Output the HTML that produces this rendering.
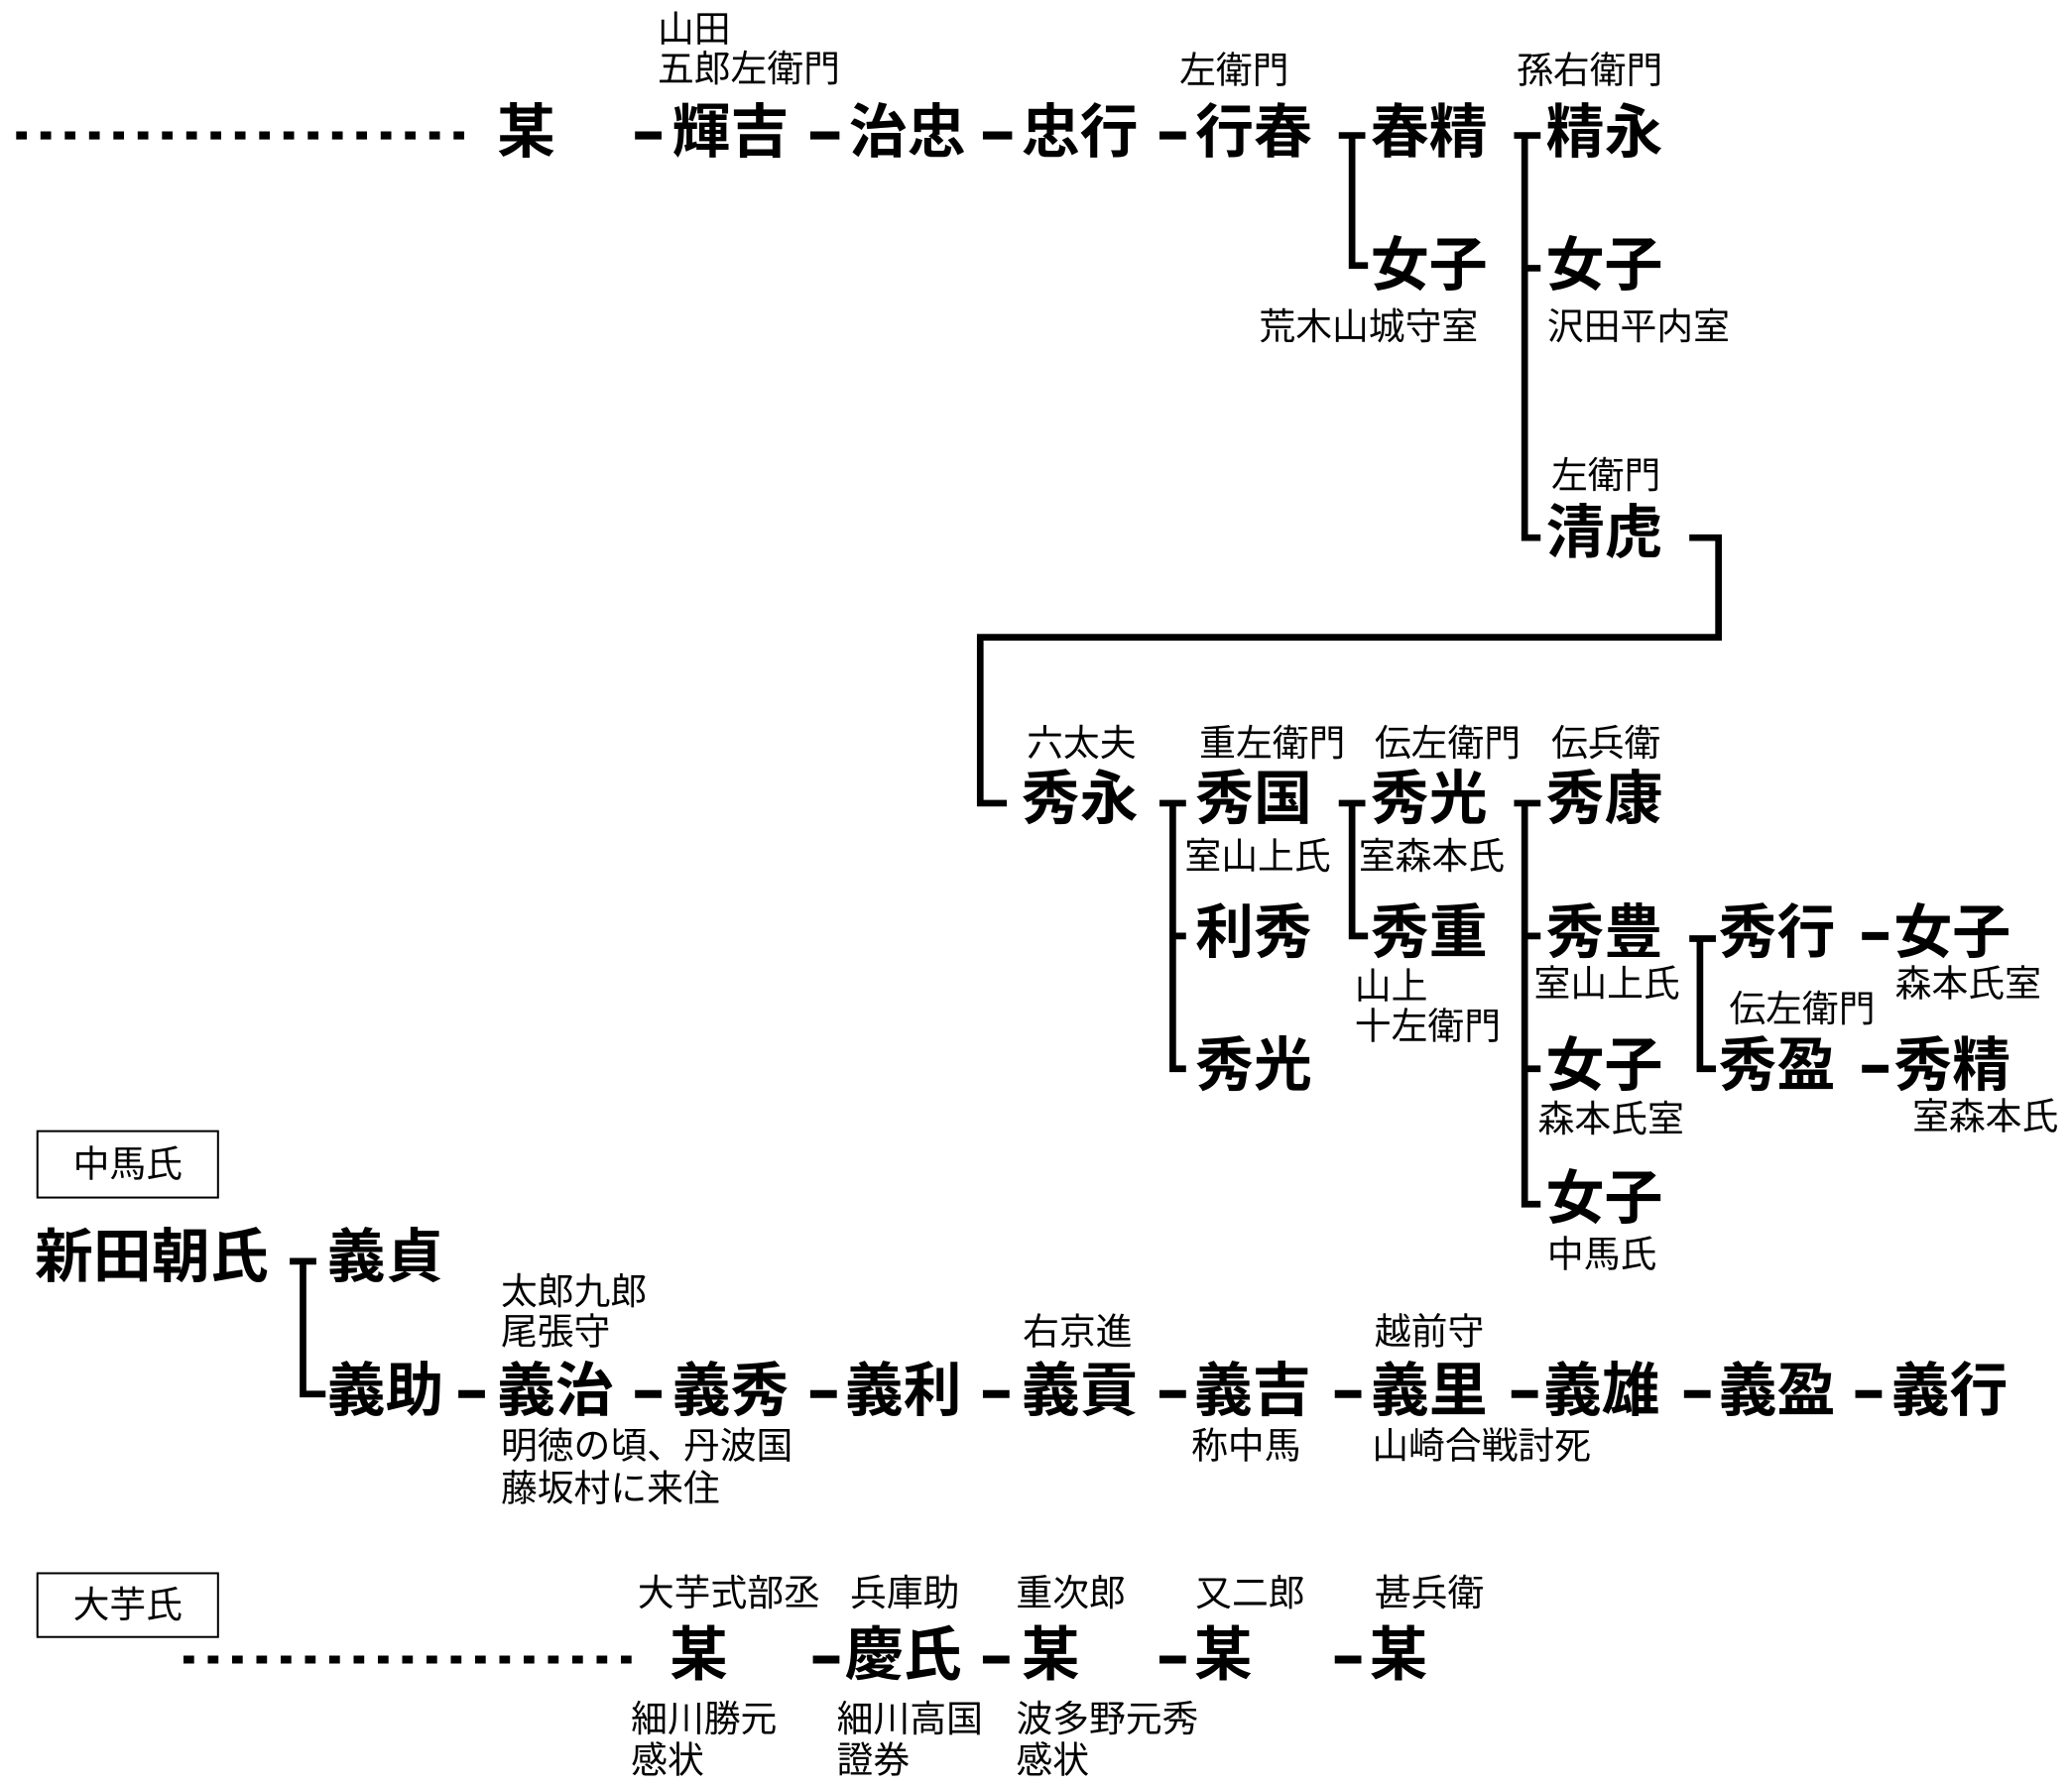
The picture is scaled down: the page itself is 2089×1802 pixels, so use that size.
<!DOCTYPE html>
<html><head><meta charset="utf-8"><style>
html,body{margin:0;padding:0;background:#fff;}
svg{display:block;}
text{font-family:"Liberation Sans","Noto Sans CJK JP",sans-serif;fill:#000;dominant-baseline:central;}
.b{font-size:44px;font-weight:bold;}
.s{font-size:27.5px;}
</style></head><body>
<svg width="2089" height="1802" viewBox="0 0 1560 1346" xmlns="http://www.w3.org/2000/svg">
<g stroke="#000" stroke-width="5" fill="none">
<line x1="12" y1="102" x2="358" y2="102" stroke-width="6" stroke-dasharray="8,10.3"/>
<line x1="138" y1="1250" x2="485" y2="1250" stroke-width="6" stroke-dasharray="8,10.3"/>
<line x1="478" y1="102" x2="498" y2="102" stroke-width="6"/>
<line x1="610" y1="102" x2="632" y2="102" stroke-width="6"/>
<line x1="740" y1="102" x2="762" y2="102" stroke-width="6"/>
<line x1="873" y1="102" x2="893" y2="102" stroke-width="6"/>
<path d="M1008 102H1028M1018 102V200H1030"/>
<path d="M1140 102H1160M1148 102V405H1160M1148 202H1160"/>
<path d="M1272 405H1294V480H738V605H758"/>
<path d="M873 605H893M883 605V805H893M883 705H893"/>
<path d="M1008 605H1028M1018 605V705H1030"/>
<path d="M1140 605H1160M1148 605V907H1160M1148 705H1160M1148 805H1160"/>
<path d="M1272 707H1292M1280 707V805H1292"/>
<line x1="1402" y1="705" x2="1422" y2="705" stroke-width="6"/>
<line x1="1402" y1="805" x2="1422" y2="805" stroke-width="6"/>
<path d="M218 950H238M228 950V1050H245"/>
<g stroke-width="6">
<line x1="345" y1="1050" x2="365" y2="1050"/>
<line x1="478" y1="1050" x2="498" y2="1050"/>
<line x1="610" y1="1050" x2="630" y2="1050"/>
<line x1="740" y1="1050" x2="760" y2="1050"/>
<line x1="873" y1="1050" x2="893" y2="1050"/>
<line x1="1005" y1="1050" x2="1025" y2="1050"/>
<line x1="1138" y1="1050" x2="1158" y2="1050"/>
<line x1="1268" y1="1050" x2="1288" y2="1050"/>
<line x1="1397" y1="1050" x2="1417" y2="1050"/>
<line x1="612" y1="1250" x2="632" y2="1250"/>
<line x1="740" y1="1250" x2="760" y2="1250"/>
<line x1="873" y1="1250" x2="893" y2="1250"/>
<line x1="1005" y1="1250" x2="1025" y2="1250"/>
</g>
<rect x="28" y="852" width="136" height="50" stroke-width="1.5"/>
<rect x="28" y="1185" width="136" height="48" stroke-width="1.5"/>
</g>
<g class="b" transform="translate(-6,-1)">
<text x="380" y="101">某</text>
<text x="512" y="101">輝吉</text>
<text x="645" y="101">治忠</text>
<text x="775" y="101">忠行</text>
<text x="906" y="101">行春</text>
<text x="1038" y="101">春精</text>
<text x="1038" y="201">女子</text>
<text x="1170" y="101">精永</text>
<text x="1170" y="201">女子</text>
<text x="1170" y="403">清虎</text>
<text x="775" y="603">秀永</text>
<text x="906" y="603">秀国</text>
<text x="906" y="704">利秀</text>
<text x="906" y="804">秀光</text>
<text x="1038" y="603">秀光</text>
<text x="1038" y="704">秀重</text>
<text x="1170" y="603">秀康</text>
<text x="1170" y="704">秀豊</text>
<text x="1170" y="804">女子</text>
<text x="1170" y="904">女子</text>
<text x="1300" y="704">秀行</text>
<text x="1432" y="704">女子</text>
<text x="1300" y="804">秀盈</text>
<text x="1432" y="804">秀精</text>
<text x="32" y="948">新田朝氏</text>
<text x="252" y="948">義貞</text>
<text x="252" y="1049">義助</text>
<text x="380" y="1049">義治</text>
<text x="512" y="1049">義秀</text>
<text x="642" y="1049">義利</text>
<text x="775" y="1049">義貢</text>
<text x="905" y="1049">義吉</text>
<text x="1038" y="1049">義里</text>
<text x="1168" y="1049">義雄</text>
<text x="1300" y="1049">義盈</text>
<text x="1430" y="1049">義行</text>
<text x="510" y="1248">某</text>
<text x="642" y="1248">慶氏</text>
<text x="775" y="1248">某</text>
<text x="905" y="1248">某</text>
<text x="1037" y="1248">某</text>
</g>
<g class="s" transform="translate(-5,-2)">
<text x="500" y="24">山田</text>
<text x="500" y="54">五郎左衛門</text>
<text x="893" y="55">左衛門</text>
<text x="1147" y="55">孫右衛門</text>
<text x="953" y="248">荒木山城守室</text>
<text x="1170" y="248">沢田平内室</text>
<text x="1173" y="360">左衛門</text>
<text x="778" y="562">六太夫</text>
<text x="908" y="562">重左衛門</text>
<text x="1040" y="562">伝左衛門</text>
<text x="1173" y="562">伝兵衛</text>
<text x="897" y="647">室山上氏</text>
<text x="1028" y="647">室森本氏</text>
<text x="1025" y="745">山上</text>
<text x="1025" y="775">十左衛門</text>
<text x="1160" y="743">室山上氏</text>
<text x="1163" y="845">森本氏室</text>
<text x="1170" y="947">中馬氏</text>
<text x="1432" y="743">森本氏室</text>
<text x="1307" y="762">伝左衛門</text>
<text x="1445" y="843">室森本氏</text>
<text x="101" y="879" text-anchor="middle">中馬氏</text>
<text x="101" y="1211" text-anchor="middle">大芋氏</text>
<text x="382" y="975">太郎九郎</text>
<text x="382" y="1005">尾張守</text>
<text x="775" y="1005">右京進</text>
<text x="1040" y="1005">越前守</text>
<text x="382" y="1091">明徳の頃、丹波国</text>
<text x="382" y="1123">藤坂村に来住</text>
<text x="902" y="1091">称中馬</text>
<text x="1038" y="1091">山崎合戦討死</text>
<text x="485" y="1202">大芋式部丞</text>
<text x="645" y="1202">兵庫助</text>
<text x="770" y="1202">重次郎</text>
<text x="905" y="1202">又二郎</text>
<text x="1040" y="1202">甚兵衛</text>
<text x="480" y="1297">細川勝元</text>
<text x="480" y="1328">感状</text>
<text x="635" y="1297">細川高国</text>
<text x="635" y="1328">證券</text>
<text x="770" y="1297">波多野元秀</text>
<text x="770" y="1328">感状</text>
</g>
</svg>
</body></html>
